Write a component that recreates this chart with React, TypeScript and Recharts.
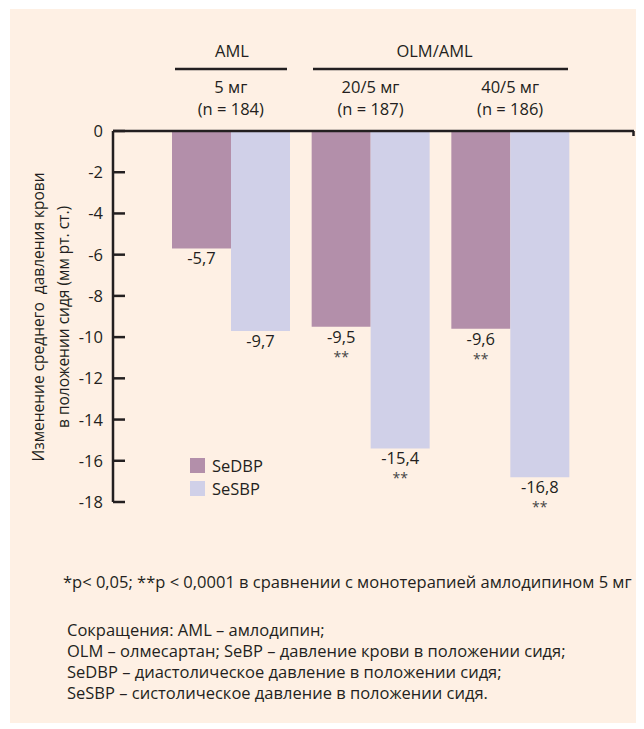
import React from "react";
import { BarChart, Bar, XAxis, YAxis, LabelList } from "recharts";

// dose groups (x categories)
const groups = ["5 мг", "20/5 мг", "40/5 мг"];
const groupN = ["(n = 184)", "(n = 187)", "(n = 186)"];

// mean change, mm Hg
const seDBP = [-5.7, -9.5, -9.6];
const seSBP = [-9.7, -15.4, -16.8];
const seDBPStars = ["", "**", "**"];
const seSBPStars = ["", "**", "**"];

const yTicks = [0, -2, -4, -6, -8, -10, -12, -14, -16, -18];

const seriesNames = ["SeDBP", "SeSBP"];
const COLORS = ["#B38FAA", "#D0D0E8"];

const footnote = "*p< 0,05; **p < 0,0001 в сравнении с монотерапией амлодипином 5 мг";
const abbreviations = [
  "Сокращения: AML – амлодипин;",
  "OLM – олмесартан; SeBP – давление крови в положении сидя;",
  "SeDBP – диастолическое давление в положении сидя;",
  "SeSBP – систолическое давление в положении сидя.",
];

const INK = "#231F20";
const FONT = "'Open Sans', 'Noto Sans', sans-serif";
const FS = 16.5;

const data = groups.map((g, i) => ({
  group: g,
  n: groupN[i],
  seDBP: seDBP[i],
  seSBP: seSBP[i],
}));

const fmt = (v: unknown) => String(v).replace(".", ",");

function valueLabel(stars: string[]) {
  return (props: any) => {
    const { x, y, width, height, value, index } = props;
    const bottom = Math.max(Number(y), Number(y) + Number(height));
    const cx = Number(x) + Number(width) / 2;
    return (
      <g>
        <text x={cx} y={bottom + 16} textAnchor="middle" fontSize={FS} fill={INK} fontFamily={FONT}>
          {fmt(value)}
        </text>
        {stars[index] ? (
          <text x={cx} y={bottom + 35} textAnchor="middle" fontSize={14} fill="#444" fontFamily={FONT}>
            {stars[index]}
          </text>
        ) : null}
      </g>
    );
  };
}

const YTick = (props: any) => {
  const { x, y, payload } = props;
  const ax = x + 2; // tickSize 1 + tickMargin 1
  return (
    <g>
      <line x1={ax} x2={ax + 12} y1={y} y2={y} stroke={INK} strokeWidth={2.5} />
      <text x={ax - 10} y={y + 6} textAnchor="end" fontSize={FS} fill={INK} fontFamily={FONT}>
        {payload.value}
      </text>
    </g>
  );
};

const XTick = (props: any) => {
  const { x, y, index } = props;
  const ay = y - 2;
  return (
    <g>
      <text x={x} y={ay - 34} textAnchor="middle" fontSize={FS} fill={INK} fontFamily={FONT}>
        {groups[index]}
      </text>
      <text x={x} y={ay - 12} textAnchor="middle" fontSize={FS} fill={INK} fontFamily={FONT}>
        {groupN[index]}
      </text>
    </g>
  );
};

export default function App() {
  return (
    <div
      style={{
        position: "relative",
        marginLeft: 2,
        marginTop: 1,
        width: 634,
        height: 714,
        background: "#FEF0E4",
        fontFamily: FONT,
        color: INK,
      }}
    >
      <div style={{ position: "absolute", left: 0, top: 0 }}>
        <BarChart
          width={634}
          height={560}
          data={data}
          margin={{ top: 92, right: 10, bottom: 67, left: 0 }}
          barGap={0}
        >
          <XAxis
            dataKey="group"
            orientation="top"
            height={30}
            padding={{ left: 48, right: 54 }}
            axisLine={{ stroke: INK, strokeWidth: 2.5 }}
            tickLine={false}
            tickSize={1}
            tickMargin={1}
            tick={<XTick />}
            interval={0}
          />
          <YAxis
            width={103}
            domain={[-18, 0]}
            ticks={yTicks}
            interval={0}
            axisLine={{ stroke: INK, strokeWidth: 2.5 }}
            tickLine={false}
            tickSize={1}
            tickMargin={1}
            tick={<YTick />}
          />
          <Bar dataKey="seDBP" name="SeDBP" fill={COLORS[0]} barSize={59} isAnimationActive={false}>
            <LabelList dataKey="seDBP" content={valueLabel(seDBPStars)} />
          </Bar>
          <Bar dataKey="seSBP" name="SeSBP" fill={COLORS[1]} barSize={59} isAnimationActive={false}>
            <LabelList dataKey="seSBP" content={valueLabel(seSBPStars)} />
          </Bar>
        </BarChart>
      </div>

      {/* legend */}
      <div style={{ position: "absolute", left: 180, top: 445, fontSize: FS }}>
        {seriesNames.map((name, i) => (
          <div key={name} style={{ display: "flex", alignItems: "center", height: 23 }}>
            <span style={{ width: 15, height: 15, background: COLORS[i], display: "inline-block", marginRight: 7 }} />
            <span>{name}</span>
          </div>
        ))}
      </div>

      {/* group headers, y title, right-end tick */}
      <svg
        width={634}
        height={560}
        style={{ position: "absolute", left: 0, top: 0, pointerEvents: "none" }}
      >
        <text x={222} y={48} textAnchor="middle" fontSize={FS} fill={INK} fontFamily={FONT}>
          AML
        </text>
        <line x1={165} x2={277} y1={60} y2={60} stroke={INK} strokeWidth={2.5} />
        <text x={424.5} y={48} textAnchor="middle" fontSize={FS} fill={INK} fontFamily={FONT}>
          OLM/AML
        </text>
        <line x1={303} x2={558} y1={60} y2={60} stroke={INK} strokeWidth={2.5} />
        <line x1={623.5} x2={623.5} y1={122} y2={127} stroke={INK} strokeWidth={2.5} />
        <text
          transform="translate(28,308) rotate(-90)"
          textAnchor="middle"
          dominantBaseline="central"
          fontSize={15.5}
          fill={INK}
          fontFamily={FONT}
          style={{ whiteSpace: "pre" }}
        >
          {"Изменение среднего  давления крови"}
        </text>
        <text
          transform="translate(53,308) rotate(-90)"
          textAnchor="middle"
          dominantBaseline="central"
          fontSize={15.5}
          fill={INK}
          fontFamily={FONT}
        >
          в положении сидя (мм рт. ст.)
        </text>
      </svg>

      <div style={{ position: "absolute", left: 53, top: 562, fontSize: FS, lineHeight: "21px", whiteSpace: "nowrap" }}>
        {footnote}
      </div>
      <div style={{ position: "absolute", left: 57, top: 610, fontSize: FS, lineHeight: "21px", whiteSpace: "nowrap" }}>
        {abbreviations.map((t) => (
          <div key={t}>{t}</div>
        ))}
      </div>
    </div>
  );
}
